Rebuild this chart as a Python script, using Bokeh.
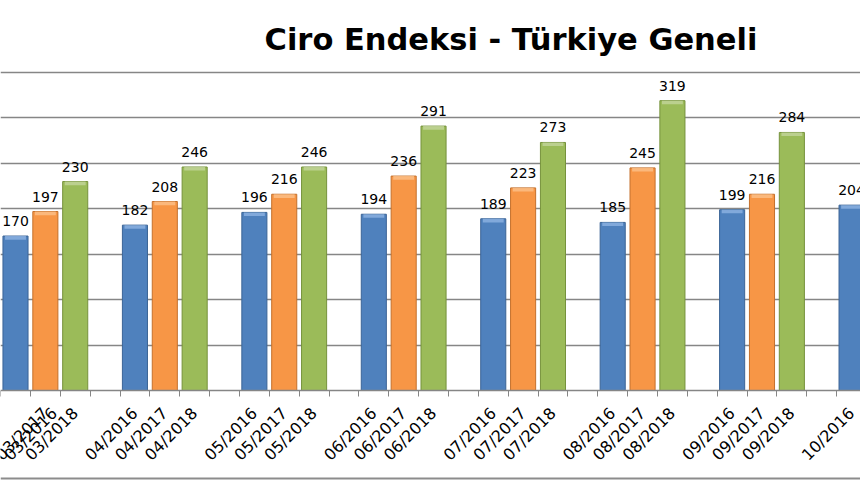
import math
from bokeh.plotting import figure
from bokeh.models import ColumnDataSource, FixedTicker, LabelSet, Range1d, Span
from bokeh.core.properties import value
from bokeh.embed import file_html
from bokeh.resources import INLINE

months = ["03", "04", "05", "06", "07", "08", "09", "10"]
years = ["2016", "2017", "2018"]
vals_2016 = [170, 182, 196, 194, 189, 185, 199, 204]
vals_2017 = [197, 208, 216, 236, 223, 245, 216]
vals_2018 = [230, 246, 246, 291, 273, 319, 284]
series = [vals_2016, vals_2017, vals_2018]
colors = ["#4F81BD", "#F79646", "#9BBB59"]
edges = ["#3B6496", "#C4702C", "#76923C"]
tops = ["#8DB3E2", "#FBC08A", "#C3D69B"]

SLOTS = 4  # three bars + one empty slot per month

p = figure(width=860, height=480, output_backend="svg", toolbar_location=None,
           x_range=Range1d(-0.5023, 28.299), y_range=Range1d(-99.06, 352.2),
           y_axis_location=None, min_border_left=0, min_border_right=0,
           min_border_top=70, min_border_bottom=0,
           title="Ciro Endeksi - Türkiye Geneli")
p.outline_line_color = None
p.background_fill_color = "white"
p.border_fill_color = "white"

p.title.align = "left"
p.title.text_font = "DejaVu Sans"
p.title.text_font_size = "30.5px"
p.title.text_font_style = "bold"
p.title.text_color = "black"
p.title.offset = 264
p.title.standoff = 27

for k, vals in enumerate(series):
    xs = [SLOTS * g + k for g in range(len(vals))]
    src = ColumnDataSource(dict(x=xs, top=vals, lab=[str(v) for v in vals],
                                cap=[v - 4 for v in vals]))
    p.vbar(x="x", top="top", bottom=0, width=0.84, source=src,
           fill_color=colors[k], line_color=edges[k], line_width=1)
    p.vbar(x="x", top="top", bottom="cap", width=0.7, source=src,
           fill_color=tops[k], line_color=None, fill_alpha=0.8)
    p.add_layout(LabelSet(x="x", y="top", text="lab", source=src,
                          text_align="center", text_baseline="alphabetic",
                          y_offset=10, text_font=value("DejaVu Sans"),
                          text_font_size=value("14px"), text_color="black"))

centers = []
overrides = {}
for g, m in enumerate(months):
    for k, yv in enumerate(years):
        c = SLOTS * g + k
        centers.append(c)
        overrides[c] = f"{m}/{yv}"
minor = [SLOTS * g + j - 0.5 for g in range(len(months)) for j in range(SLOTS)]

p.xaxis.fixed_location = 0
p.xaxis.ticker = FixedTicker(ticks=centers, minor_ticks=minor)
p.xaxis.major_label_overrides = overrides
p.xaxis.major_label_orientation = math.pi / 4
p.xaxis.major_label_text_font = "DejaVu Sans"
p.xaxis.major_label_text_font_size = "16px"
p.xaxis.major_label_text_color = "black"
p.xaxis.major_tick_out = 0
p.xaxis.major_tick_in = 0
p.xaxis.minor_tick_out = 6
p.xaxis.minor_tick_in = 0
p.xaxis.minor_tick_line_color = "#868686"
p.xaxis.axis_line_color = "#868686"
p.xaxis.axis_line_width = 1.5
p.xaxis.major_label_standoff = 14

p.xgrid.visible = False
p.ygrid.ticker = FixedTicker(ticks=[50, 100, 150, 200, 250, 300, 350])
p.ygrid.grid_line_color = "#868686"
p.ygrid.grid_line_width = 1.5

# chart-area border at the bottom of the picture
p.add_layout(Span(location=-96.9, dimension="width", line_color="#8C8C8C",
                  line_width=2))

open("out.html", "w").write(file_html(p, INLINE))
